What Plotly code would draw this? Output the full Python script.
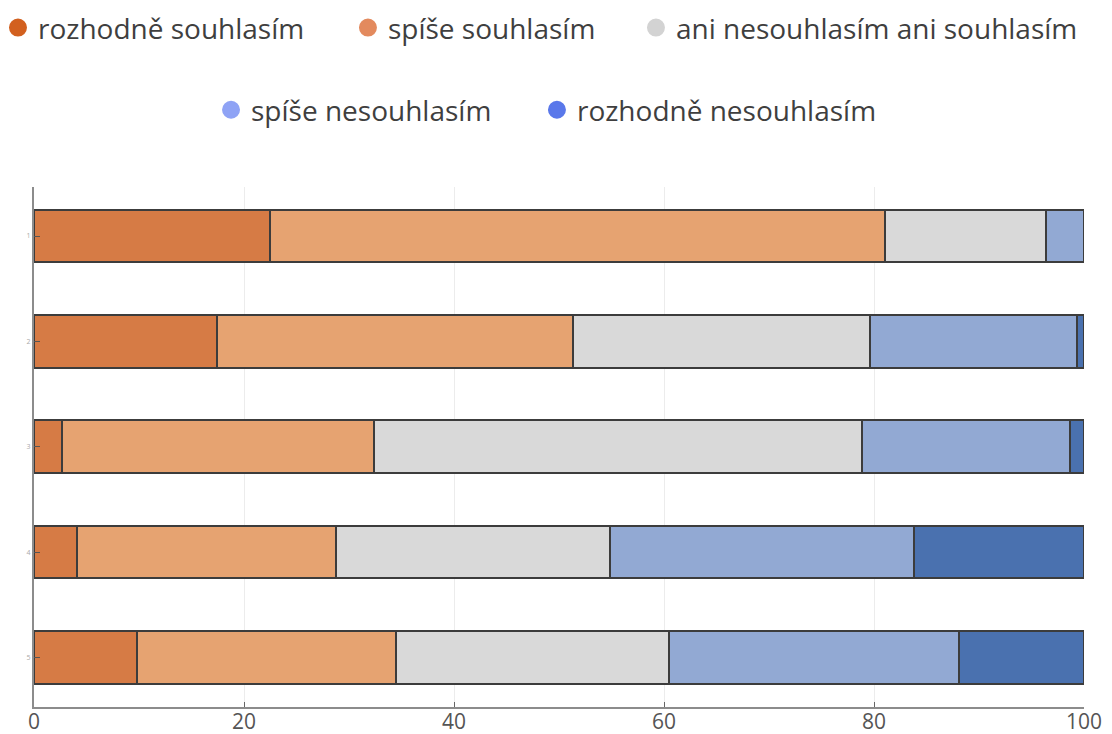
import plotly.graph_objects as go

categories = ["1", "2", "3", "4", "5"]
series_names = ["rozhodně souhlasím", "spíše souhlasím", "ani nesouhlasím ani souhlasím",
                "spíše nesouhlasím", "rozhodně nesouhlasím"]
rozhodne_souhlasim = [22.5, 17.4, 2.7, 4.1, 9.8]
spise_souhlasim = [58.5, 33.9, 29.7, 24.7, 24.7]
ani_ani = [15.4, 28.3, 46.5, 26.1, 26.0]
spise_nesouhlasim = [3.6, 19.7, 19.8, 28.9, 27.6]
rozhodne_nesouhlasim = [0.0, 0.7, 1.3, 16.2, 11.9]
x_ticks = [0, 20, 40, 60, 80, 100]

bar_colors = ["#D67B45", "#E6A371", "#D9D9D9", "#92A9D3", "#4A71AF"]
legend_colors = ["#D2601F", "#E38A5E", "#D3D3D3", "#8FA3F5", "#5A78EA"]
values = [rozhodne_souhlasim, spise_souhlasim, ani_ani, spise_nesouhlasim, rozhodne_nesouhlasim]

# legend placement (paper coords): one legend per entry
legend_ids = ["legend", "legend2", "legend3", "legend4", "legend5"]
legend_x = [-0.0343, 0.299, 0.5733, 0.1686, 0.479]
legend_y = [1.306, 1.306, 1.306, 1.148, 1.148]

fig = go.Figure()
for name, vals, col in zip(series_names, values, bar_colors):
    fig.add_trace(go.Bar(
        y=categories, x=vals, orientation="h", name=name, showlegend=False,
        marker=dict(color=col, line=dict(color="#3c3c3c", width=2)),
        width=0.5,
    ))

for name, col, lid in zip(series_names, legend_colors, legend_ids):
    fig.add_trace(go.Scatter(
        x=[None], y=[None], mode="markers", name=name,
        marker=dict(color=col, size=16, symbol="circle", line=dict(color=col, width=2)),
        legend=lid,
    ))

layout_legends = {}
for lid, lx, ly in zip(legend_ids, legend_x, legend_y):
    layout_legends[lid] = dict(
        orientation="h", x=lx, xanchor="left", y=ly, yanchor="middle",
        font=dict(size=28, color="#3f3f3f", family="Open Sans, sans-serif"),
        bgcolor="rgba(0,0,0,0)", borderwidth=0,
    )

fig.update_layout(
    width=1104, height=726,
    barmode="stack",
    plot_bgcolor="white", paper_bgcolor="white",
    margin=dict(l=26, r=28, t=179, b=27, autoexpand=False),
    font=dict(family="Open Sans, DejaVu Sans, sans-serif", color="#555"),
    showlegend=True,
    **layout_legends,
)
fig.update_xaxes(range=[0, 100], tickvals=x_ticks, showgrid=True, gridcolor="#ececec",
                 gridwidth=1, showline=True, linecolor="#8c8c8c", linewidth=2, zeroline=False,
                 tickfont=dict(size=21, color="#555"), ticks="inside", ticklen=5,
                 tickcolor="#666", tickwidth=1, ticklabelstandoff=-5)
fig.update_yaxes(range=[4.47, -0.465], showline=True, linecolor="#8c8c8c", linewidth=2,
                 showgrid=False, tickfont=dict(size=7, color="#aaa"), ticks="inside",
                 ticklen=6, tickcolor="#555", tickwidth=1)

fig.write_html("out.html")
